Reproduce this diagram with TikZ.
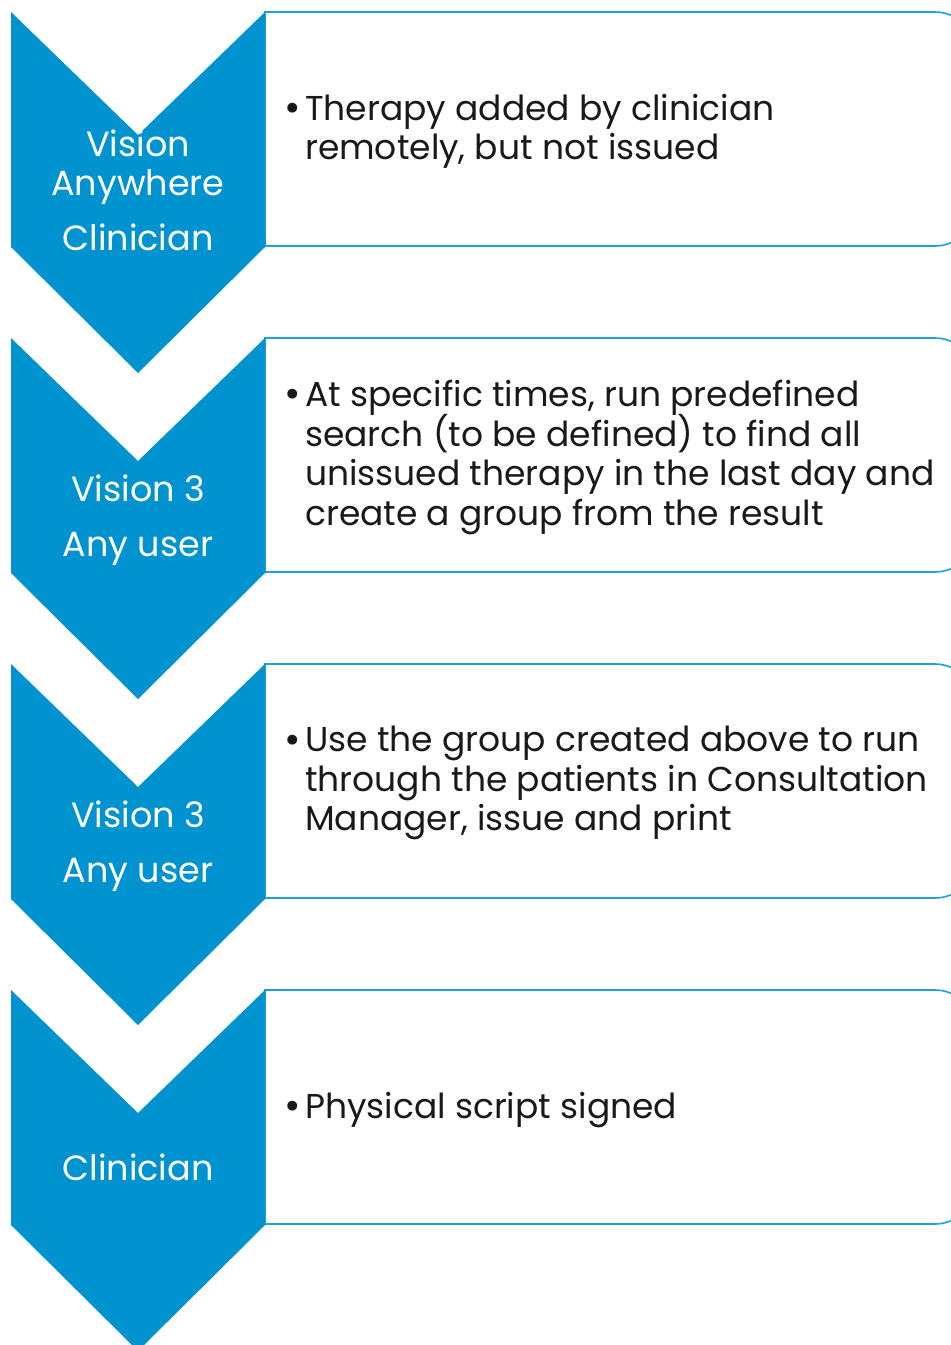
\documentclass[tikz,border=0pt]{standalone}
\usepackage{fontspec}
\setmainfont{Poppins}
\definecolor{chev}{RGB}{0,147,208}
\definecolor{edge}{RGB}{30,160,220}
\definecolor{ink}{RGB}{25,25,25}
\newcommand{\detailfont}{\fontsize{34.5}{39.5}\selectfont\lineskiplimit=-100pt\relax}
\begin{document}
\begin{tikzpicture}[x=1pt,y=-1pt,
  chevron/.style={fill=chev,draw=none},
  stepbox/.style={draw=edge,line width=1.6pt,fill=white,rounded corners=40pt},
  role/.style={text=white,font=\fontsize{35}{40}\selectfont,anchor=base,inner sep=0pt},
  bul/.style={text=ink,font=\fontsize{40}{40}\selectfont,anchor=base,inner sep=0pt},
  detail/.style={text=ink,font=\detailfont,align=left,anchor=north west,inner sep=0pt}]
\useasboundingbox (0,0) rectangle (951,1345);
\clip (0,0) rectangle (951,1345);
% boxes and chevrons, one row per step
\foreach \t in {12,338,664,990}{
  \draw[stepbox] (265,\t+234) [sharp corners]-- (265,\t) [rounded corners=40pt]-- (975,\t) -- (975,\t+234) [sharp corners]-- cycle;
  \fill[chevron] (11,\t) -- (138,\t+123) -- (265,\t) -- (265,\t+235) -- (138,\t+361) -- (11,\t+235) -- cycle;
}
% step 1
\node[role] (r1a) at (138,156) {Vision};
\node[role] (r1b) at (138,195) {Anywhere};
\node[role] (r1c) at (138,250) {Clinician};
\node[bul] (b1) at (293,121) {•};
\node[detail] (d1) at (305,94) {Therapy added by clinician\\remotely, but not issued};
% step 2
\node[role] (r2a) at (138,501) {Vision 3};
\node[role] (r2b) at (138,556) {Any user};
\node[bul] (b2) at (293,407) {•};
\node[detail] (d2) at (305,380) {At specific times, run predefined\\search (to be defined) to find all\\unissued therapy in the last day and\\create a group from the result};
% step 3
\node[role] (r3a) at (138,827) {Vision 3};
\node[role] (r3b) at (138,882) {Any user};
\node[bul] (b3) at (293,753) {•};
\node[detail] (d3) at (305,726) {Use the group created above to run\\through the patients in Consultation\\Manager, issue and print};
% step 4
\node[role] (r4a) at (138,1180) {Clinician};
\node[bul] (b4) at (293,1119) {•};
\node[detail] (d4) at (305,1092) {Physical script signed};
\end{tikzpicture}
\end{document}
